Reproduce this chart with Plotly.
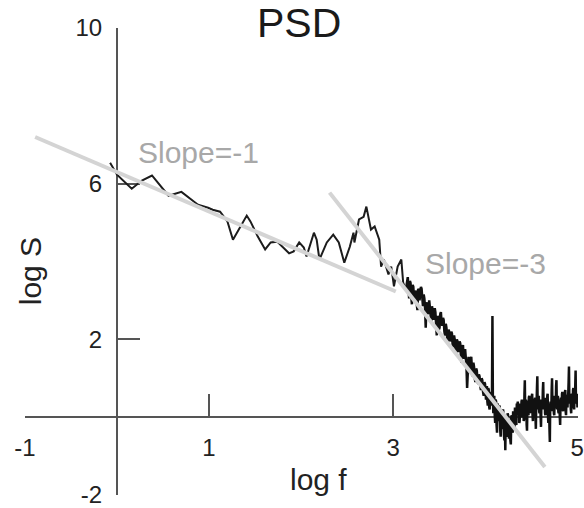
import plotly.graph_objects as go

# ---- data ----
low_logf = [-0.075, 0.0, 0.16, 0.27, 0.38, 0.56, 0.70, 0.88, 0.99, 1.04, 1.12, 1.20, 1.26,
            1.41, 1.45, 1.53, 1.61, 1.67, 1.74, 1.83, 1.87, 1.92, 1.98, 2.03, 2.06,
            2.14, 2.17, 2.20, 2.28, 2.35, 2.41, 2.47, 2.53, 2.57, 2.58, 2.63, 2.68,
            2.71, 2.74, 2.76, 2.80, 2.85, 2.87, 2.90, 2.95, 2.98, 3.01, 3.05, 3.09,
            3.11, 3.14]
low_logS = [6.54, 6.23, 5.87, 6.08, 6.21, 5.69, 5.79, 5.46, 5.38, 5.33, 5.28, 5.03, 4.56,
            5.18, 5.03, 4.64, 4.31, 4.49, 4.51, 4.31, 4.21, 4.26, 4.49, 4.36, 4.13,
            4.74, 4.56, 4.05, 4.49, 4.69, 4.49, 3.97, 4.38, 4.74, 4.49, 5.08, 5.15,
            5.41, 5.03, 4.82, 4.90, 4.56, 3.87, 4.05, 3.67, 3.87, 3.36, 3.87, 4.05,
            3.46, 3.28]

mid_logf = [3.14, 3.160, 3.168, 3.175, 3.183, 3.190, 3.198, 3.205, 3.213, 3.220, 3.228,
            3.235, 3.243, 3.250, 3.258, 3.265, 3.273, 3.280, 3.288, 3.295, 3.303,
            3.310, 3.318, 3.325, 3.333, 3.340, 3.348, 3.355, 3.363, 3.370, 3.378,
            3.385, 3.393, 3.400, 3.408, 3.415, 3.423, 3.430, 3.438, 3.445, 3.453,
            3.460, 3.468, 3.475, 3.483, 3.490, 3.498, 3.505, 3.513, 3.520, 3.528,
            3.535, 3.543, 3.550, 3.558, 3.565, 3.573, 3.580, 3.588, 3.595, 3.603,
            3.610, 3.618, 3.625, 3.633, 3.640, 3.648, 3.655, 3.663, 3.670, 3.678,
            3.685, 3.693, 3.700, 3.708, 3.715, 3.723, 3.730, 3.738, 3.745, 3.753,
            3.760, 3.768, 3.775, 3.783, 3.790, 3.798, 3.805, 3.813, 3.820, 3.828,
            3.835, 3.843, 3.850, 3.858, 3.865, 3.873, 3.880, 3.888, 3.895, 3.903,
            3.910, 3.918, 3.925, 3.933, 3.940, 3.948, 3.955, 3.963, 3.970, 3.978,
            3.985, 3.993, 4.000]
mid_logS = [3.28, 3.60, 3.30, 3.05, 3.50, 3.45, 3.10, 2.90, 3.40, 3.35, 3.05,
            3.00, 3.25, 3.20, 2.90, 2.75, 3.30, 3.25, 3.00, 3.15, 3.35,
            3.30, 2.95, 2.85, 3.15, 3.05, 2.80, 2.30, 2.90, 2.95, 2.65,
            2.70, 3.00, 2.85, 2.60, 2.45, 2.85, 2.75, 2.50, 2.60, 2.80,
            2.70, 2.40, 2.10, 2.60, 2.55, 2.25, 2.30, 2.65, 2.70, 2.40,
            2.35, 2.55, 2.50, 2.20, 2.10, 2.40, 2.30, 2.05, 1.90, 2.25,
            2.20, 1.95, 2.00, 2.20, 2.15, 1.85, 1.80, 2.10, 2.00, 1.75,
            1.65, 2.00, 1.95, 1.70, 1.70, 1.95, 1.90, 1.55, 1.40, 1.80,
            1.85, 1.50, 1.55, 1.75, 1.60, 1.30, 0.75, 1.40, 1.55, 1.30,
            1.20, 1.50, 1.55, 1.20, 1.05, 1.40, 1.30, 1.00, 0.90, 1.25,
            1.20, 0.95, 0.85, 1.10, 1.05, 0.80, 0.70, 1.00, 0.95, 0.65,
            0.55, 0.90, 0.85]

trough_logf = [4.010, 4.015, 4.020, 4.025, 4.030, 4.035, 4.040, 4.045, 4.050, 4.055,
               4.060, 4.065, 4.070, 4.075, 4.080, 4.085, 4.090, 4.095,
               4.100, 4.105, 4.110, 4.115, 4.120, 4.125, 4.130, 4.135, 4.140, 4.145,
               4.150, 4.155, 4.160, 4.165, 4.170, 4.175, 4.180, 4.185, 4.190, 4.195,
               4.200, 4.205, 4.210, 4.215, 4.220, 4.225, 4.230, 4.235, 4.240, 4.245,
               4.250, 4.255, 4.260, 4.265, 4.270, 4.275, 4.280, 4.285, 4.290, 4.295,
               4.300, 4.305, 4.310, 4.315, 4.320, 4.325, 4.330, 4.335, 4.340, 4.345,
               4.350]
trough_logS = [0.45, 0.70, 0.80, 0.40, 0.30, 0.75, 0.70, 0.25, 0.20, 0.65,
               0.60, 0.30, 0.35, 0.55, 2.60, 0.40, 0.10, 0.50,
               0.55, 0.05, -0.15, 0.45, 0.40, -0.20, -0.40, 0.35, 0.30, -0.05,
               -0.10, 0.30, 0.25, -0.35, -0.50, 0.20, 0.15, -0.25, -0.30, 0.20,
               0.10, -0.45, -0.60, -0.20, -0.85, 0.05, 0.00, -0.50, -0.45, 0.10,
               0.05, -0.30, -0.55, -0.05, -0.10, -0.60, -0.70, 0.00, 0.05, -0.35,
               -0.40, 0.15, 0.10, -0.25, -0.30, 0.25, 0.20, -0.15, -0.20, 0.35,
               0.30]

high_logf = [4.356, 4.360, 4.364, 4.368, 4.372, 4.376, 4.380, 4.384, 4.388, 4.392, 4.396,
             4.400, 4.404, 4.408, 4.412, 4.416, 4.420, 4.424, 4.428, 4.432, 4.436,
             4.440, 4.444, 4.448, 4.452, 4.456, 4.460, 4.464, 4.468, 4.472, 4.476,
             4.480, 4.484, 4.488, 4.492, 4.496, 4.500, 4.504, 4.508, 4.512, 4.516,
             4.520, 4.524, 4.528, 4.532, 4.536, 4.540, 4.544, 4.548, 4.552, 4.556,
             4.560, 4.564, 4.568, 4.572, 4.576, 4.580, 4.584, 4.588, 4.592, 4.596,
             4.600, 4.604, 4.608, 4.612, 4.616, 4.620, 4.624, 4.628, 4.632, 4.636,
             4.640, 4.644, 4.648, 4.652, 4.656, 4.660, 4.664, 4.668, 4.672, 4.676,
             4.680, 4.684, 4.688, 4.692, 4.696, 4.700, 4.704, 4.708, 4.712, 4.716,
             4.720, 4.724, 4.728, 4.732, 4.736, 4.740, 4.744, 4.748, 4.752, 4.756,
             4.760, 4.764, 4.768, 4.772, 4.776, 4.780, 4.784, 4.788, 4.792, 4.796,
             4.800, 4.804, 4.808, 4.812, 4.816, 4.820, 4.824, 4.828, 4.832, 4.836,
             4.840, 4.844, 4.848, 4.852, 4.856, 4.860, 4.864, 4.868, 4.872, 4.876,
             4.880, 4.884, 4.888, 4.892, 4.896, 4.900, 4.904, 4.908, 4.912, 4.916,
             4.920, 4.924, 4.928, 4.932, 4.936, 4.940, 4.944, 4.948, 4.952, 4.956,
             4.960, 4.964, 4.968, 4.972, 4.976, 4.980, 4.984, 4.988, 4.992, 4.996,
             5.000, 5.004, 5.008]
high_logS = [0.40, 0.05, 0.30, 0.35, -0.15, -0.10, 0.25, 0.30, 0.05, 0.00, 0.40,
             0.45, 0.15, 0.10, 0.40, 0.35, -0.10, -0.05, 0.60, 0.95, 0.20,
             0.15, 0.45, 0.40, -0.20, -0.35, 0.25, 0.30, 0.10, 0.05, 0.50,
             0.55, 0.15, 0.10, 0.40, 0.45, 0.20, 0.20, 0.55, 0.60, 0.05,
             -0.10, 0.35, 0.40, 0.10, 0.15, 0.45, 0.50, 0.00, -0.30, 0.30,
             0.35, 0.75, 1.05, 0.25, 0.20, 0.50, 0.55, 0.15, 0.10, 0.40,
             0.45, 0.00, -0.25, 0.35, 0.40, 0.25, 0.20, 0.70, 0.90, 0.30,
             0.25, 0.45, 0.50, 0.10, 0.05, 0.40, 0.45, 0.25, 0.20, 0.55,
             0.60, 0.00, -0.15, 0.30, 0.35, -0.30, -0.64, 0.30, 0.40, 0.20,
             0.15, 0.70, 1.00, 0.35, 0.30, 0.50, 0.55, 0.10, 0.05, 0.45,
             0.50, 0.30, 0.25, 0.80, 0.95, 0.25, 0.20, 0.50, 0.55, 0.15,
             0.10, 0.40, 0.45, 0.00, -0.20, 0.40, 0.50, 0.30, 0.25, 0.60,
             0.65, 0.20, 0.15, 0.50, 0.55, 0.35, 0.30, 0.65, 0.70, 0.15,
             0.05, 0.45, 0.50, 0.30, 0.25, 0.55, 0.60, 0.90, 1.30, 0.40,
             0.35, 0.50, 0.55, 0.20, 0.10, 0.55, 0.60, 0.35, 0.30, 0.70,
             0.75, 0.25, 0.20, 0.50, 0.55, 0.80, 1.20, 0.40, 0.35, 0.55,
             0.60, 0.25, 0.30]

# fitted slope lines (endpoints)
fit1_logf = [-0.89, 3.03]
fit1_logS = [7.20, 3.23]
fit3_logf = [2.31, 4.65]
fit3_logS = [5.77, -1.28]

x_ticks = [-1, 1, 3, 5]
y_ticks = [-2, 2, 6, 10]
x_range = [-1, 5.01]
y_range = [-2, 10]

title_text = "PSD"
x_title = "log f"
y_title = "log S"
label1 = "Slope=-1"
label3 = "Slope=-3"

# ---- figure ----
FONT = "Liberation Sans, Arial, Helvetica, sans-serif"
AX = "#555555"

dense_logf = mid_logf + trough_logf + high_logf
dense_logS = mid_logS + trough_logS + high_logS

fig = go.Figure()
fig.add_trace(go.Scatter(x=low_logf, y=low_logS, mode="lines",
                         line=dict(color="#1c1c1c", width=2), showlegend=False,
                         hoverinfo="skip"))
fig.add_trace(go.Scatter(x=dense_logf, y=dense_logS, mode="lines",
                         line=dict(color="#111111", width=2.5), showlegend=False,
                         hoverinfo="skip"))
fig.add_trace(go.Scatter(x=fit1_logf, y=fit1_logS, mode="lines",
                         line=dict(color="#d4d4d4", width=4), showlegend=False,
                         hoverinfo="skip"))
fig.add_trace(go.Scatter(x=fit3_logf, y=fit3_logS, mode="lines",
                         line=dict(color="#d4d4d4", width=4), showlegend=False,
                         hoverinfo="skip"))

xpos = (0 - y_range[0]) / (y_range[1] - y_range[0])
ypos = (0 - x_range[0]) / (x_range[1] - x_range[0])

axis_common = dict(ticks="inside", ticklen=22, tickwidth=2, tickcolor=AX,
                   showline=True, linecolor=AX, linewidth=2,
                   showgrid=False, zeroline=False,
                   tickfont=dict(size=24, family=FONT, color="#222222"),
                   ticklabelstandoff=9, ticklabeloverflow="allow",
                   layer="below traces")

fig.update_layout(
    width=584, height=508,
    margin=dict(l=25, r=0, t=28, b=12),
    paper_bgcolor="white", plot_bgcolor="white",
    font=dict(family=FONT, color="#222222"),
    xaxis=dict(range=x_range, anchor="free", position=xpos,
               tickmode="array", tickvals=x_ticks, ticktext=[str(v) for v in x_ticks],
               **axis_common),
    yaxis=dict(range=y_range, anchor="free", position=ypos,
               tickmode="array", tickvals=y_ticks, ticktext=[str(v) for v in y_ticks],
               **axis_common),
    annotations=[
        dict(text=title_text, xref="paper", yref="paper", x=0.4955, y=1.01,
             xanchor="center", yanchor="middle", showarrow=False,
             font=dict(size=41, family=FONT, color="#1a1a1a")),
        dict(text=x_title, xref="paper", yref="paper", x=0.531, y=0.034,
             xanchor="center", yanchor="middle", showarrow=False,
             font=dict(size=30, family=FONT, color="#222222")),
        dict(text=y_title, xref="paper", yref="paper", x=0.009, y=0.479,
             xanchor="center", yanchor="middle", showarrow=False, textangle=-90,
             font=dict(size=30, family=FONT, color="#222222")),
        dict(text=label1, xref="x", yref="y", x=0.89, y=6.79,
             xanchor="center", yanchor="middle", showarrow=False,
             font=dict(size=30, family=FONT, color="#a8a8a8")),
        dict(text=label3, xref="x", yref="y", x=4.0, y=3.95,
             xanchor="center", yanchor="middle", showarrow=False,
             font=dict(size=30, family=FONT, color="#a8a8a8")),
    ],
)

fig.write_html("out.html",
               config={"displayModeBar": False},
               post_script="document.body.style.margin='0';document.body.style.overflow='hidden';")
